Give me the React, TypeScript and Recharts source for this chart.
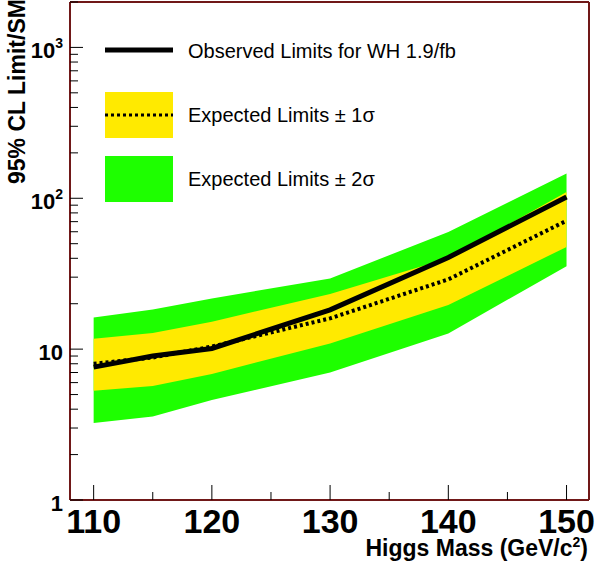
import React from 'react';
import { ComposedChart, Area, Line, XAxis, YAxis, Legend } from 'recharts';

const masses = [110, 115, 120, 130, 140, 150];
const observed = [7.6, 9.0, 10.1, 18.2, 40.5, 102];
const expected = [8.0, 8.8, 10.4, 16.0, 29.0, 71];
const plus1 = [11.7, 12.8, 15.2, 23.2, 40.0, 110];
const minus1 = [5.3, 5.7, 6.85, 10.9, 19.6, 47.6];
const plus2 = [16.2, 18.3, 21.7, 29.4, 59.8, 146];
const minus2 = [3.24, 3.57, 4.6, 7.0, 12.7, 35.5];

const xTicks = [110, 115, 120, 125, 130, 135, 140, 145, 150];
const xMajorTicks = [110, 120, 130, 140, 150];
const yTicks = [1, 2, 3, 4, 5, 6, 7, 8, 9, 10, 20, 30, 40, 50, 60, 70, 80, 90, 100, 200, 300, 400, 500, 600, 700, 800, 900, 1000, 2000];
const yMajorTicks = [1, 10, 100, 1000];
const yMajorBase = ['1', '10', '10', '10'];
const yMajorExp = ['', '', '2', '3'];

const legendLabels = ['Observed Limits for WH 1.9/fb', 'Expected Limits \u00b1 1\u03c3', 'Expected Limits \u00b1 2\u03c3'];

const GREEN = '#1eff00';
const YELLOW = '#ffea00';
const FRAME = '#701818';
const FONT = '"Liberation Sans", Arial, Helvetica, sans-serif';

const data = masses.map((m, i) => ({
  mass: m,
  band2: [minus2[i], plus2[i]],
  band1: [minus1[i], plus1[i]],
  exp: expected[i],
  obs: observed[i],
}));

const XTick = (props: any) => {
  const { x, y, payload } = props;
  const v = payload.value;
  const major = xMajorTicks.includes(v);
  return (
    <g>
      <line x1={x} x2={x} y1={y} y2={y - (major ? 15 : 8)} stroke="#000" strokeWidth={1} />
      {major && (
        <text x={x} y={y + 33} textAnchor="middle" fontSize={34} fontWeight="bold" fontFamily={FONT} fill="#000">
          {v}
        </text>
      )}
    </g>
  );
};

const YTick = (props: any) => {
  const { x, y, payload } = props;
  const v = payload.value;
  const idx = yMajorTicks.indexOf(v);
  const major = idx >= 0;
  return (
    <g>
      <line x1={x} x2={x + (major ? 13 : 8)} y1={y} y2={y} stroke="#000" strokeWidth={1} />
      {major && (
        <text x={x - 7} y={y + 11} textAnchor="end" fontSize={22} fontWeight="bold" fontFamily={FONT} fill="#000">
          {yMajorBase[idx]}
          {yMajorExp[idx] && (
            <tspan dy={-10} fontSize={14}>
              {yMajorExp[idx]}
            </tspan>
          )}
        </text>
      )}
    </g>
  );
};

const XTitle = (props: any) => {
  const vb = props.viewBox;
  return (
    <text x={vb.x + vb.width - 1} y={vb.y + 56} textAnchor="end" fontSize={23} fontWeight="bold" fontFamily={FONT} fill="#000">
      Higgs Mass (GeV/c
      <tspan dy={-9} fontSize={14}>2</tspan>
      <tspan dy={9}>)</tspan>
    </text>
  );
};

const YTitle = (props: any) => {
  const vb = props.viewBox;
  const tx = vb.x + vb.width - 45;
  const ty = vb.y + 182;
  return (
    <text x={tx} y={ty} transform={`rotate(-90 ${tx} ${ty})`} textAnchor="start" fontSize={23} fontWeight="bold" fontFamily={FONT} fill="#000">
      95% CL Limit/SM
    </text>
  );
};

const LegendBox = () => (
  <svg width={597} height={220} style={{ display: 'block' }}>
    <line x1={105} x2={173} y1={50} y2={50} stroke="#000" strokeWidth={5} />
    <text x={188} y={58} fontSize={20} fontFamily={FONT} fill="#000">{legendLabels[0]}</text>
    <rect x={105} y={92} width={68} height={46} fill={YELLOW} />
    <line x1={105} x2={173} y1={115} y2={115} stroke="#000" strokeWidth={3} strokeDasharray="3 3" />
    <text x={188} y={122} fontSize={20} fontFamily={FONT} fill="#000">{legendLabels[1]}</text>
    <rect x={105} y={156} width={68} height={46} fill={GREEN} />
    <text x={188} y={186} fontSize={20} fontFamily={FONT} fill="#000">{legendLabels[2]}</text>
  </svg>
);

export default function App() {
  return (
    <div style={{ position: 'absolute', left: 0, top: 0, width: 597, height: 573, background: '#fff' }}>
      <ComposedChart width={597} height={573} data={data} margin={{ top: 1, right: 7, left: 69, bottom: 72 }}>
        <XAxis
          dataKey="mass"
          type="number"
          domain={[108, 151.9]}
          ticks={xTicks}
          interval={0}
          allowDataOverflow
          height={1}
          tickSize={0}
          tickMargin={0}
          tickLine={false}
          tick={<XTick />}
          axisLine={{ stroke: FRAME, strokeWidth: 2 }}
          label={{ content: <XTitle /> }}
        />
        <XAxis
          xAxisId="top"
          orientation="top"
          dataKey="mass"
          type="number"
          domain={[108, 151.9]}
          height={1}
          tick={false}
          tickLine={false}
          axisLine={{ stroke: FRAME, strokeWidth: 2 }}
        />
        <YAxis
          type="number"
          scale="log"
          domain={[1, 2000]}
          ticks={yTicks}
          interval={0}
          allowDataOverflow
          width={1}
          tickSize={0}
          tickMargin={0}
          tickLine={false}
          tick={<YTick />}
          axisLine={{ stroke: FRAME, strokeWidth: 2 }}
          label={{ content: <YTitle /> }}
        />
        <YAxis
          yAxisId="right"
          orientation="right"
          type="number"
          domain={[0, 1]}
          width={1}
          tick={false}
          tickLine={false}
          axisLine={{ stroke: FRAME, strokeWidth: 2 }}
        />
        <Area dataKey="band2" type="linear" fill={GREEN} fillOpacity={1} stroke="none" isAnimationActive={false} />
        <Area dataKey="band1" type="linear" fill={YELLOW} fillOpacity={1} stroke="none" isAnimationActive={false} />
        <Line dataKey="exp" type="linear" stroke="#000" strokeWidth={4} strokeDasharray="3 3" dot={false} isAnimationActive={false} />
        <Line dataKey="obs" type="linear" stroke="#000" strokeWidth={5} dot={false} isAnimationActive={false} />
        <Legend
          layout="horizontal"
          verticalAlign="middle"
          align="center"
          wrapperStyle={{ position: 'absolute', top: 0, left: 0, width: 597, height: 220 }}
          content={() => <LegendBox />}
        />
      </ComposedChart>
    </div>
  );
}
